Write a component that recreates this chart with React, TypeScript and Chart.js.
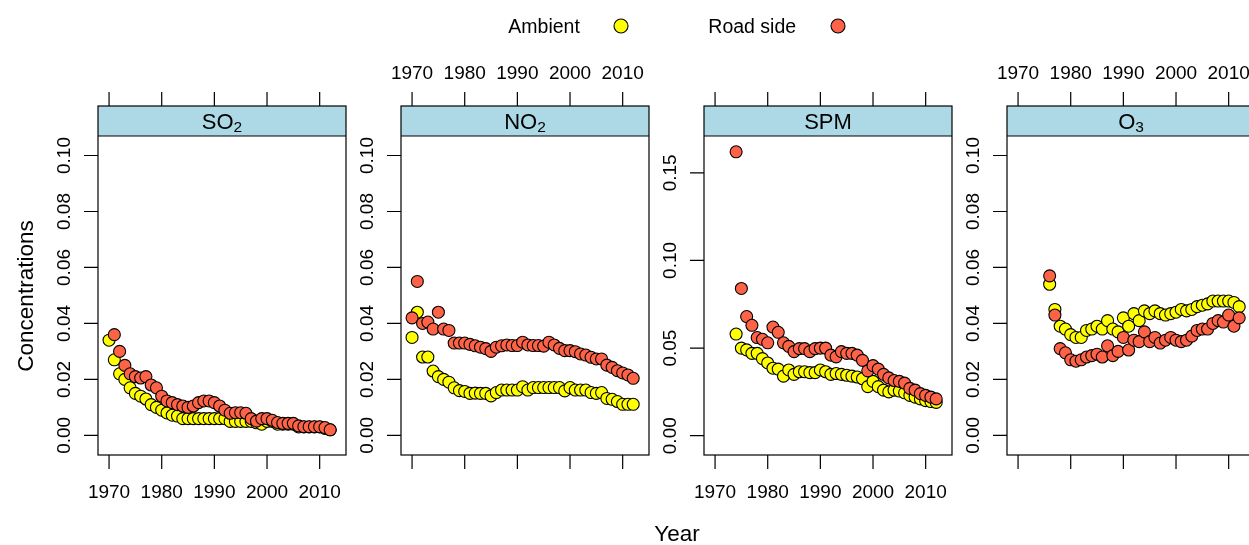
import React, { useEffect, useRef } from "react";
import { Chart, registerables } from "chart.js";
Chart.register(...registerables);

// ---------------- DATA ----------------
const years = [
  1970, 1971, 1972, 1973, 1974, 1975, 1976, 1977, 1978, 1979,
  1980, 1981, 1982, 1983, 1984, 1985, 1986, 1987, 1988, 1989,
  1990, 1991, 1992, 1993, 1994, 1995, 1996, 1997, 1998, 1999,
  2000, 2001, 2002, 2003, 2004, 2005, 2006, 2007, 2008, 2009,
  2010, 2011, 2012,
];

const so2Ambient = [
  0.034, 0.027, 0.022, 0.020, 0.017, 0.015, 0.014, 0.013, 0.011, 0.010,
  0.009, 0.008, 0.0072, 0.0069, 0.006, 0.006, 0.006, 0.006, 0.006, 0.006,
  0.006, 0.006, 0.006, 0.005, 0.005, 0.005, 0.005, 0.005, 0.0045, 0.004,
  0.005, 0.005, 0.004, 0.004, 0.004, 0.004, 0.003, 0.003, 0.003, 0.003,
  0.003, 0.0025, 0.002,
];
const so2Road = [
  null, 0.036, 0.030, 0.025, 0.022, 0.021, 0.0205, 0.021, 0.018, 0.017,
  0.014, 0.0123, 0.0117, 0.011, 0.0105, 0.010, 0.0105, 0.0117, 0.0123, 0.0123,
  0.0117, 0.0105, 0.009, 0.0079, 0.0081, 0.0081, 0.0079, 0.006, 0.0051, 0.006,
  0.006, 0.0054, 0.0046, 0.0043, 0.0043, 0.0043, 0.0034, 0.0031, 0.0031, 0.0031,
  0.0031, 0.0028, 0.002,
];

const no2Ambient = [
  0.035, 0.044, 0.028, 0.028, 0.023, 0.021, 0.020, 0.019, 0.017, 0.016,
  0.0157, 0.015, 0.0151, 0.015, 0.015, 0.0141, 0.0153, 0.0162, 0.0162, 0.0162,
  0.0162, 0.0174, 0.0162, 0.0171, 0.0171, 0.0171, 0.0171, 0.0171, 0.0171, 0.0159,
  0.0171, 0.0162, 0.0162, 0.0162, 0.0153, 0.015, 0.0153, 0.0132, 0.0129, 0.0121,
  0.0111, 0.0111, 0.0111,
];
const no2Road = [
  0.042, 0.055, 0.040, 0.0405, 0.038, 0.044, 0.038, 0.0375, 0.033, 0.033,
  0.033, 0.0325, 0.032, 0.0315, 0.031, 0.030, 0.0315, 0.032, 0.0323, 0.0321,
  0.0321, 0.0333, 0.0323, 0.0321, 0.0321, 0.0319, 0.0333, 0.0323, 0.0311, 0.0303,
  0.0303, 0.0299, 0.0291, 0.0287, 0.0279, 0.0273, 0.0273, 0.0251, 0.0243, 0.0231,
  0.0223, 0.0216, 0.0204,
];

const spmAmbient = [
  null, null, null, null, 0.058, 0.050, 0.049, 0.047, 0.047, 0.044,
  0.0415, 0.0385, 0.038, 0.034, 0.0375, 0.035, 0.0365, 0.0365, 0.036, 0.036,
  0.0375, 0.0365, 0.035, 0.0355, 0.035, 0.0345, 0.034, 0.0335, 0.0325, 0.028,
  0.031, 0.028, 0.026, 0.025, 0.026, 0.0255, 0.0245, 0.023, 0.022, 0.021,
  0.020, 0.0195, 0.019,
];
const spmRoad = [
  null, null, null, null, 0.162, 0.084, 0.068, 0.063, 0.056, 0.055,
  0.053, 0.062, 0.059, 0.053, 0.051, 0.048, 0.0497, 0.0497, 0.048, 0.0497,
  0.050, 0.050, 0.046, 0.045, 0.048, 0.047, 0.047, 0.046, 0.043, 0.037,
  0.040, 0.038, 0.035, 0.033, 0.0315, 0.031, 0.030, 0.027, 0.026, 0.024,
  0.023, 0.022, 0.021,
];

const o3Ambient = [
  null, null, null, null, null, null, 0.054, 0.045, 0.039, 0.038,
  0.036, 0.035, 0.035, 0.0375, 0.038, 0.039, 0.038, 0.041, 0.038, 0.037,
  0.042, 0.039, 0.0435, 0.041, 0.0445, 0.0435, 0.0445, 0.0435, 0.043, 0.0435,
  0.044, 0.045, 0.0445, 0.045, 0.046, 0.0465, 0.047, 0.048, 0.048, 0.048,
  0.048, 0.0475, 0.046,
];
const o3Road = [
  null, null, null, null, null, null, 0.057, 0.043, 0.031, 0.0295,
  0.027, 0.0265, 0.027, 0.028, 0.0285, 0.029, 0.028, 0.032, 0.0285, 0.030,
  0.035, 0.0305, 0.034, 0.0335, 0.037, 0.0335, 0.035, 0.033, 0.034, 0.035,
  0.034, 0.0335, 0.034, 0.0355, 0.0375, 0.038, 0.038, 0.040, 0.041, 0.0405,
  0.043, 0.039, 0.042,
];

const xTicks = [1970, 1980, 1990, 2000, 2010];
const yTicksStd = [0, 0.02, 0.04, 0.06, 0.08, 0.1];
const yLabelsStd = ["0.00", "0.02", "0.04", "0.06", "0.08", "0.10"];
const yTicksSpm = [0, 0.05, 0.1, 0.15];
const yLabelsSpm = ["0.00", "0.05", "0.10", "0.15"];

const seriesNames = ["Ambient", "Road side"];
const seriesColors = ["#FFFF00", "#FF6347"];

// ---------------- LAYOUT ----------------
const CANVAS_W = 1300;
const CANVAS_H = 545;
const PANEL_W = 248;
const STRIP_TOP = 106;
const PLOT_TOP = 136;
const PLOT_BOTTOM = 455;
const FONT = "'Liberation Sans', Arial, Helvetica, sans-serif";

type Panel = {
  main: string;
  sub: string;
  ambient: (number | null)[];
  road: (number | null)[];
  yMin: number;
  yMax: number;
  yTicks: number[];
  yLabels: string[];
  left: number;
  labelsTop: boolean;
};

const panels: Panel[] = [
  { main: "SO", sub: "2", ambient: so2Ambient, road: so2Road, yMin: -0.00701, yMax: 0.10697, yTicks: yTicksStd, yLabels: yLabelsStd, left: 98, labelsTop: false },
  { main: "NO", sub: "2", ambient: no2Ambient, road: no2Road, yMin: -0.00701, yMax: 0.10697, yTicks: yTicksStd, yLabels: yLabelsStd, left: 401, labelsTop: true },
  { main: "SPM", sub: "", ambient: spmAmbient, road: spmRoad, yMin: -0.011, yMax: 0.171, yTicks: yTicksSpm, yLabels: yLabelsSpm, left: 704, labelsTop: false },
  { main: "O", sub: "3", ambient: o3Ambient, road: o3Road, yMin: -0.00701, yMax: 0.10697, yTicks: yTicksStd, yLabels: yLabelsStd, left: 1007, labelsTop: true },
];

function toPoints(vals: (number | null)[]) {
  const pts: { x: number; y: number }[] = [];
  vals.forEach((v, i) => {
    if (v !== null) pts.push({ x: years[i], y: v });
  });
  return pts;
}

function makePanelPlugin(p: Panel) {
  return {
    id: "panelDeco",
    beforeDatasetsDraw(chart: any) {
      const { ctx, chartArea: a } = chart;
      ctx.save();
      ctx.fillStyle = "#ADD8E6";
      ctx.fillRect(a.left, STRIP_TOP, a.right - a.left, a.top - STRIP_TOP);
      ctx.restore();
    },
    afterDraw(chart: any) {
      const { ctx, chartArea: a } = chart;
      const xs = chart.scales.x;
      const ys = chart.scales.y;
      ctx.save();
      ctx.strokeStyle = "#000";
      ctx.fillStyle = "#000";
      ctx.lineWidth = 1.2;
      // frame
      ctx.strokeRect(a.left, STRIP_TOP, a.right - a.left, a.bottom - STRIP_TOP);
      ctx.beginPath();
      ctx.moveTo(a.left, a.top);
      ctx.lineTo(a.right, a.top);
      ctx.stroke();
      // x ticks top & bottom
      ctx.beginPath();
      xTicks.forEach((t) => {
        const px = xs.getPixelForValue(t);
        ctx.moveTo(px, STRIP_TOP);
        ctx.lineTo(px, STRIP_TOP - 14);
        ctx.moveTo(px, a.bottom);
        ctx.lineTo(px, a.bottom + 14);
      });
      // y ticks left
      p.yTicks.forEach((t) => {
        const py = ys.getPixelForValue(t);
        ctx.moveTo(a.left, py);
        ctx.lineTo(a.left - 14, py);
      });
      ctx.stroke();
      // x labels
      ctx.font = `19px ${FONT}`;
      ctx.textAlign = "center";
      ctx.textBaseline = "alphabetic";
      xTicks.forEach((t) => {
        const px = xs.getPixelForValue(t);
        ctx.fillText(String(t), px, p.labelsTop ? 79 : 497.5);
      });
      // y labels (rotated)
      p.yTicks.forEach((t, i) => {
        const py = ys.getPixelForValue(t);
        ctx.save();
        ctx.translate(a.left - 28, py);
        ctx.rotate(-Math.PI / 2);
        ctx.fillText(p.yLabels[i], 0, 0);
        ctx.restore();
      });
      // strip title with subscript
      const mainFont = `22px ${FONT}`;
      const subFont = `15.5px ${FONT}`;
      ctx.font = mainFont;
      const wMain = ctx.measureText(p.main).width;
      ctx.font = subFont;
      const wSub = p.sub ? ctx.measureText(p.sub).width : 0;
      const cx = (a.left + a.right) / 2;
      const startX = cx - (wMain + wSub) / 2;
      ctx.textAlign = "left";
      ctx.font = mainFont;
      ctx.fillText(p.main, startX, 128.5);
      if (p.sub) {
        ctx.font = subFont;
        ctx.fillText(p.sub, startX + wMain, 132);
      }
      ctx.restore();
    },
  };
}

const globalPlugin = {
  id: "globalDeco",
  afterDraw(chart: any) {
    const { ctx } = chart;
    ctx.save();
    ctx.fillStyle = "#000";
    ctx.textBaseline = "alphabetic";
    // legend
    ctx.font = `19.5px ${FONT}`;
    ctx.textAlign = "left";
    ctx.fillText(seriesNames[0], 508.3, 33);
    ctx.fillText(seriesNames[1], 708.3, 33);
    const markers = [621, 838];
    markers.forEach((mx, i) => {
      ctx.beginPath();
      ctx.arc(mx, 26, 7, 0, Math.PI * 2);
      ctx.fillStyle = seriesColors[i];
      ctx.fill();
      ctx.lineWidth = 1.1;
      ctx.strokeStyle = "#000";
      ctx.stroke();
    });
    ctx.fillStyle = "#000";
    // axis titles
    ctx.font = `22.5px ${FONT}`;
    ctx.textAlign = "center";
    ctx.fillText("Year", 677, 541);
    ctx.save();
    ctx.translate(33, 296);
    ctx.rotate(-Math.PI / 2);
    ctx.fillText("Concentrations", 0, 0);
    ctx.restore();
    ctx.restore();
  },
};

function PanelCanvas({ p, withGlobal }: { p: Panel; withGlobal: boolean }) {
  const ref = useRef<HTMLCanvasElement | null>(null);
  useEffect(() => {
    if (!ref.current) return;
    const plugins: any[] = [makePanelPlugin(p)];
    if (withGlobal) plugins.push(globalPlugin);
    const chart = new Chart(ref.current, {
      type: "scatter",
      data: {
        datasets: [
          {
            label: seriesNames[1],
            data: toPoints(p.road),
            backgroundColor: seriesColors[1],
            borderColor: "#000",
            borderWidth: 1.1,
            pointRadius: 6,
            order: 0,
          },
          {
            label: seriesNames[0],
            data: toPoints(p.ambient),
            backgroundColor: seriesColors[0],
            borderColor: "#000",
            borderWidth: 1.1,
            pointRadius: 6,
            order: 1,
          },
        ],
      },
      options: {
        responsive: false,
        animation: false,
        events: [],
        devicePixelRatio: 1,
        layout: {
          padding: {
            left: p.left,
            right: CANVAS_W - p.left - PANEL_W,
            top: PLOT_TOP,
            bottom: CANVAS_H - PLOT_BOTTOM,
          },
        },
        plugins: {
          legend: { display: false },
          tooltip: { enabled: false },
          title: { display: false },
        },
        scales: {
          x: { type: "linear", min: 1967.9, max: 2015.0, display: false },
          y: { type: "linear", min: p.yMin, max: p.yMax, display: false },
        },
      },
      plugins,
    } as any);
    return () => chart.destroy();
  }, [p, withGlobal]);
  return (
    <canvas
      ref={ref}
      width={CANVAS_W}
      height={CANVAS_H}
      style={{ position: "absolute", left: 0, top: 0, width: CANVAS_W, height: CANVAS_H }}
    />
  );
}

export default function App() {
  return (
    <div
      style={{
        position: "fixed",
        left: 0,
        top: 0,
        width: 1249,
        height: 545,
        overflow: "hidden",
        background: "#fff",
      }}
    >
      {panels.map((p, i) => (
        <PanelCanvas key={i} p={p} withGlobal={i === 0} />
      ))}
    </div>
  );
}
